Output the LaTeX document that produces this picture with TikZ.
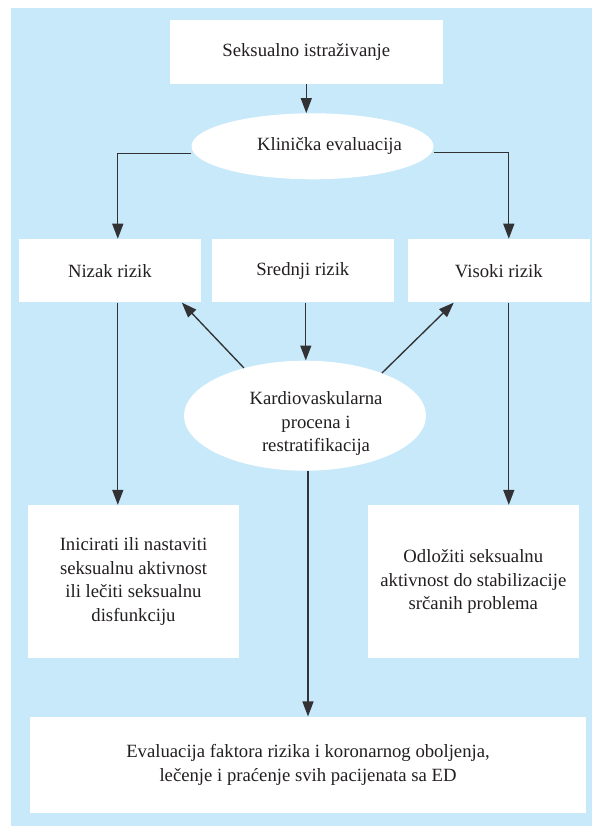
\documentclass[tikz,border=0pt]{standalone}
\usepackage{fontspec}
\setmainfont{Liberation Serif}
\usetikzlibrary{arrows.meta, positioning, shapes.geometric}
\definecolor{bgblue}{RGB}{199,233,249}
\definecolor{linegray}{RGB}{50,50,52}
\definecolor{txtgray}{RGB}{35,31,32}

\begin{document}
\begin{tikzpicture}[x=1pt, y=-1pt,
    txt/.style={text=txtgray, font=\fontsize{18.7}{23.5}\selectfont, align=center},
    box/.style={txt, fill=white, inner sep=0pt},
    oval/.style={ellipse, fill=white, inner sep=0pt},
    arr/.style={draw=linegray, line width=1.35pt, -{Triangle[length=15pt, width=11pt]}}]
    \useasboundingbox (0,0) rectangle (592,826);
    \fill[bgblue] (11,8) rectangle (592,826);

    % Top of the chart
    \node[box, minimum width=272.7pt, minimum height=64pt] (seks) at (306.3,52) {Seksualno istraživanje};
    \node[oval, minimum width=242pt, minimum height=66pt,
          label={[txt, xshift=17pt]center:Klinička evaluacija}] (klin) at (312.5,146.3) {};

    % Risk levels
    \node[box, minimum width=181.7pt, minimum height=63.5pt] (nizak) at (109.8,270.7) {Nizak rizik};
    \node[box, minimum width=181.7pt, minimum height=63.5pt] (srednji) at (302.8,270.7) {Srednji rizik};
    \node[box, minimum width=181.7pt, minimum height=63.5pt] (visoki) at (498.8,270.7) {Visoki rizik};

    \node[oval, minimum width=242pt, minimum height=110pt,
          label={[txt, xshift=11pt, yshift=-8pt]center:Kardiovaskularna\\procena i\\restratifikacija}] (kardio) at (305,415.7) {};

    % Outcomes
    \node[box, minimum width=211pt, minimum height=153.3pt] (inic) at (133.5,581.7) {Inicirati ili nastaviti\\seksualnu aktivnost\\ili lečiti seksualnu\\disfunkciju};
    \node[box, minimum width=210.7pt, minimum height=153.3pt] (odlo) at (473.3,581.7) {Odložiti seksualnu\\aktivnost do stabilizacije\\srčanih problema};
    \node[box, minimum width=556pt, minimum height=96.7pt] (eval) at (308,765) {Evaluacija faktora rizika i koronarnog oboljenja,\\lečenje i praćenje svih pacijenata sa ED};

    % Connectors
    \draw[arr] (seks.south) -- (seks.south |- klin.north);
    \draw[arr] ([yshift=-7pt]klin.west) -| ([xshift=8pt]nizak.north);
    \draw[arr] ([yshift=-6pt]klin.east) -| ([xshift=10pt]visoki.north);
    \draw[arr] ([xshift=3pt]srednji.south) -- ([xshift=3pt]srednji.south |- kardio.north);
    \draw[arr] (kardio.142) -- ([xshift=-19pt]nizak.south east);
    \draw[arr] (kardio.29) -- ([xshift=46pt]visoki.south west);
    \draw[arr] ([xshift=8pt]nizak.south) -- ([xshift=8pt]nizak.south |- inic.north);
    \draw[arr] ([xshift=10pt]visoki.south) -- ([xshift=10pt]visoki.south |- odlo.north);
    \draw[arr] (eval.north |- kardio.south) -- (eval.north);
\end{tikzpicture}
\end{document}
